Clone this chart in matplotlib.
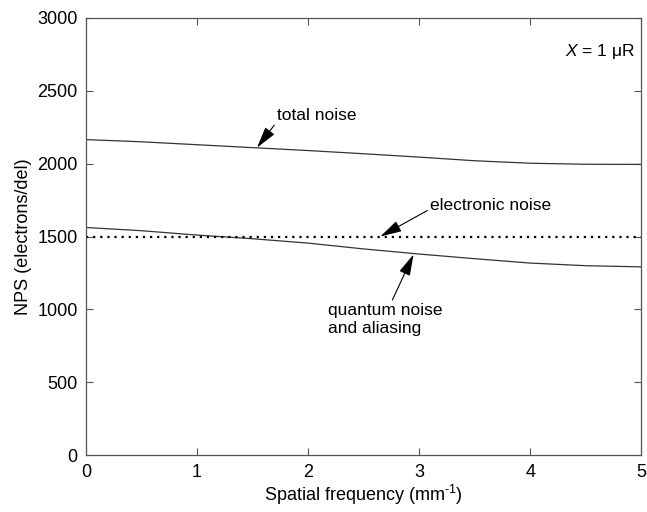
import numpy as np
import matplotlib.pyplot as plt

plt.rcParams['font.family'] = ['Liberation Sans', 'DejaVu Sans']
plt.rcParams['mathtext.fontset'] = 'custom'
plt.rcParams['mathtext.it'] = 'Liberation Sans:italic'
plt.rcParams['mathtext.rm'] = 'Liberation Sans'

freq = [0, 0.5, 1.0, 1.5, 2.0, 2.5, 3.0, 3.5, 4.0, 4.5, 5.0]
total_nps = [2165, 2150, 2130, 2110, 2090, 2068, 2045, 2020, 2003, 1996, 1995]
quantum_nps = [1562, 1540, 1510, 1485, 1455, 1415, 1380, 1348, 1318, 1300, 1292]
electronic_nps = [1500] * len(freq)

fig = plt.figure(figsize=(6.47, 5.12), dpi=100)
ax = fig.add_axes([0.133, 0.111, 0.858, 0.854])

ax.plot(freq, total_nps, color='#333333', lw=0.9)
ax.plot(freq, quantum_nps, color='#333333', lw=0.9)
ax.plot(freq, electronic_nps, color='black', lw=1.6, ls=(0, (1, 2.2)))

ax.set_xlim(0, 5)
ax.set_ylim(0, 3000)
ax.set_xticks(range(0, 6))
ax.set_yticks(range(0, 3001, 500))
ax.tick_params(direction='in', length=5, top=True, right=True, labelsize=13,
               color='#555555', pad=6)
for sp in ax.spines.values():
    sp.set_color('#555555')
    sp.set_linewidth(0.9)

ax.set_xlabel(r'Spatial frequency (mm$^{\text{-1}}$)', fontsize=13, labelpad=2)
ax.set_ylabel('NPS (electrons/del)', fontsize=13, labelpad=4)

# matlab-style pointers from the labels to the curves
arrow = dict(arrowstyle='-|>,head_length=1.2,head_width=0.32', color='black', lw=0.8,
             mutation_scale=11, shrinkA=0, shrinkB=0)
ax.annotate('total noise', xy=(1.54, 2110), xytext=(1.72, 2330),
            fontsize=12.5, ha='left', va='center',
            arrowprops=dict(arrow, relpos=(0, 0.1)))
ax.annotate('electronic noise', xy=(2.65, 1500), xytext=(3.1, 1710),
            fontsize=12.5, ha='left', va='center',
            arrowprops=dict(arrow, relpos=(0, 0.3)))
ax.annotate('quantum noise\nand aliasing', xy=(2.95, 1378), xytext=(2.18, 930),
            fontsize=12.5, ha='left', va='center', linespacing=1.3,
            arrowprops=dict(arrow, relpos=(0.55, 1.0)))

ax.text(4.94, 2770, r'$X$ = 1 $\mathrm{\mu}$R', fontsize=12.5, ha='right', va='center')

fig.savefig('out.png', dpi=100)
